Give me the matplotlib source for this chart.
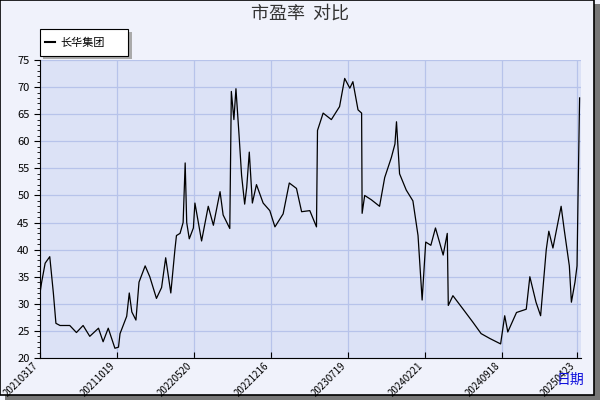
import numpy as np
import matplotlib as mpl
mpl.use('Agg')
import matplotlib.pyplot as plt
from matplotlib.patches import Rectangle

plt.rcParams['font.family'] = ['Noto Sans CJK SC', 'DejaVu Sans']

# ------------------------------------------------------------------
# Data (trading-day index, PE ratio)
# ------------------------------------------------------------------
day = [0, 3, 10, 19, 26, 31, 39, 58, 71, 84, 97, 114, 123, 133, 146, 153, 156,
       169, 174, 179, 187, 193, 205, 214, 227, 237, 245, 255, 263, 266, 273,
       279, 283, 286, 291, 299, 302, 315, 328, 338, 351, 357, 370, 373, 378,
       382, 388, 393, 399, 403, 408, 414, 422, 435, 448, 458, 474, 486, 500,
       510, 526, 539, 541, 552, 568, 584, 594, 604, 610, 620, 627, 628, 633,
       646, 662, 672, 685, 692, 695, 701, 714, 727, 737, 745, 752, 762, 771,
       786, 794, 796, 805, 825, 844, 860, 877, 898, 906, 912, 929, 948, 955,
       967, 976, 987, 992, 1000, 1016, 1022, 1032, 1036, 1043, 1047, 1049, 1052]
pe = [32, 33.9, 37.5, 38.7, 32, 26.4, 26, 26, 24.7, 26, 24, 25.5, 23, 25.5,
      21.8, 22, 24.5, 27.7, 32, 28.5, 27, 34, 37, 35, 31, 33, 38.5, 32, 40,
      42.6, 43, 45, 56, 45, 42, 44, 48.6, 41.6, 48, 44.5, 50.7, 46.4, 43.9,
      69.2, 64, 69.7, 61.2, 53.7, 48.4, 51.5, 58, 48.6, 52, 48.6, 47.2, 44.2,
      46.6, 52.3, 51.3, 47, 47.2, 44.2, 62, 65.2, 64, 66.4, 71.6, 69.8, 71,
      65.8, 65.2, 46.7, 50, 49.2, 48, 53.3, 57, 59.5, 63.6, 54, 51, 49, 42.6,
      30.7, 41.4, 40.8, 44, 39, 43, 29.7, 31.5, 29, 26.6, 24.5, 23.6, 22.6,
      27.8, 24.8, 28.4, 29, 35, 30.3, 27.8, 40, 43.4, 40.3, 48, 43.7, 37, 30.3,
      34, 37, 50, 68]
tick_day = [0, 150, 300, 450, 600, 750, 900, 1046]
tick_lbl = ['20210317', '20211019', '20220520', '20221216', '20230719',
            '20240221', '20240918', '20250423']

fig = plt.figure(figsize=(6, 4), dpi=100, facecolor='#f0f2fb')
# outer frame with shadow
fig.patches.append(Rectangle((0.008, 0.0), 0.992, 0.99, transform=fig.transFigure,
                             facecolor='#777777', edgecolor='none', zorder=-2))
fig.patches.append(Rectangle((0.0, 0.012), 0.99, 0.988, transform=fig.transFigure,
                             facecolor='#f0f2fb', edgecolor='black', lw=1.2, zorder=-1))

ax = fig.add_axes([0.0667, 0.105, 0.901, 0.745])
ax.set_facecolor('#dce2f6')
ax.plot(day, pe, color='black', lw=0.9)
ax.set_xlim(0, 1054)
ax.set_ylim(20, 75)
ax.set_yticks(np.arange(20, 76, 5))
ax.set_yticks(np.arange(20, 76, 1), minor=True)
ax.set_xticks(tick_day)
ax.set_xticklabels(tick_lbl, rotation=45, ha='right', fontsize=7)
ax.tick_params(axis='y', labelsize=8, length=4)
ax.tick_params(axis='y', which='minor', length=2)
ax.tick_params(axis='x', length=4, direction='in', pad=2)
ax.grid(True, color='#b7c3ea', lw=0.9)
for s in ['top', 'right']:
    ax.spines[s].set_visible(False)

fig.text(0.5, 0.965, '市盈率  对比', ha='center', va='center', fontsize=13, color='#333333')
fig.text(0.95, 0.05, '日期', ha='center', va='center', fontsize=10, color='#1010dd')

# legend box with shadow
fig.patches.append(Rectangle((0.072, 0.852), 0.148, 0.068, transform=fig.transFigure,
                             facecolor='#aaaaaa', edgecolor='none', zorder=2))
fig.patches.append(Rectangle((0.066, 0.86), 0.148, 0.068, transform=fig.transFigure,
                             facecolor='white', edgecolor='black', lw=0.8, zorder=3))
fig.lines.append(plt.Line2D([0.075, 0.092], [0.894, 0.894], transform=fig.transFigure,
                            color='black', lw=1.5, zorder=4))
fig.text(0.1, 0.894, '长华集团', va='center', fontsize=8, zorder=5)

fig.savefig('out.png', dpi=100, facecolor=fig.get_facecolor())
